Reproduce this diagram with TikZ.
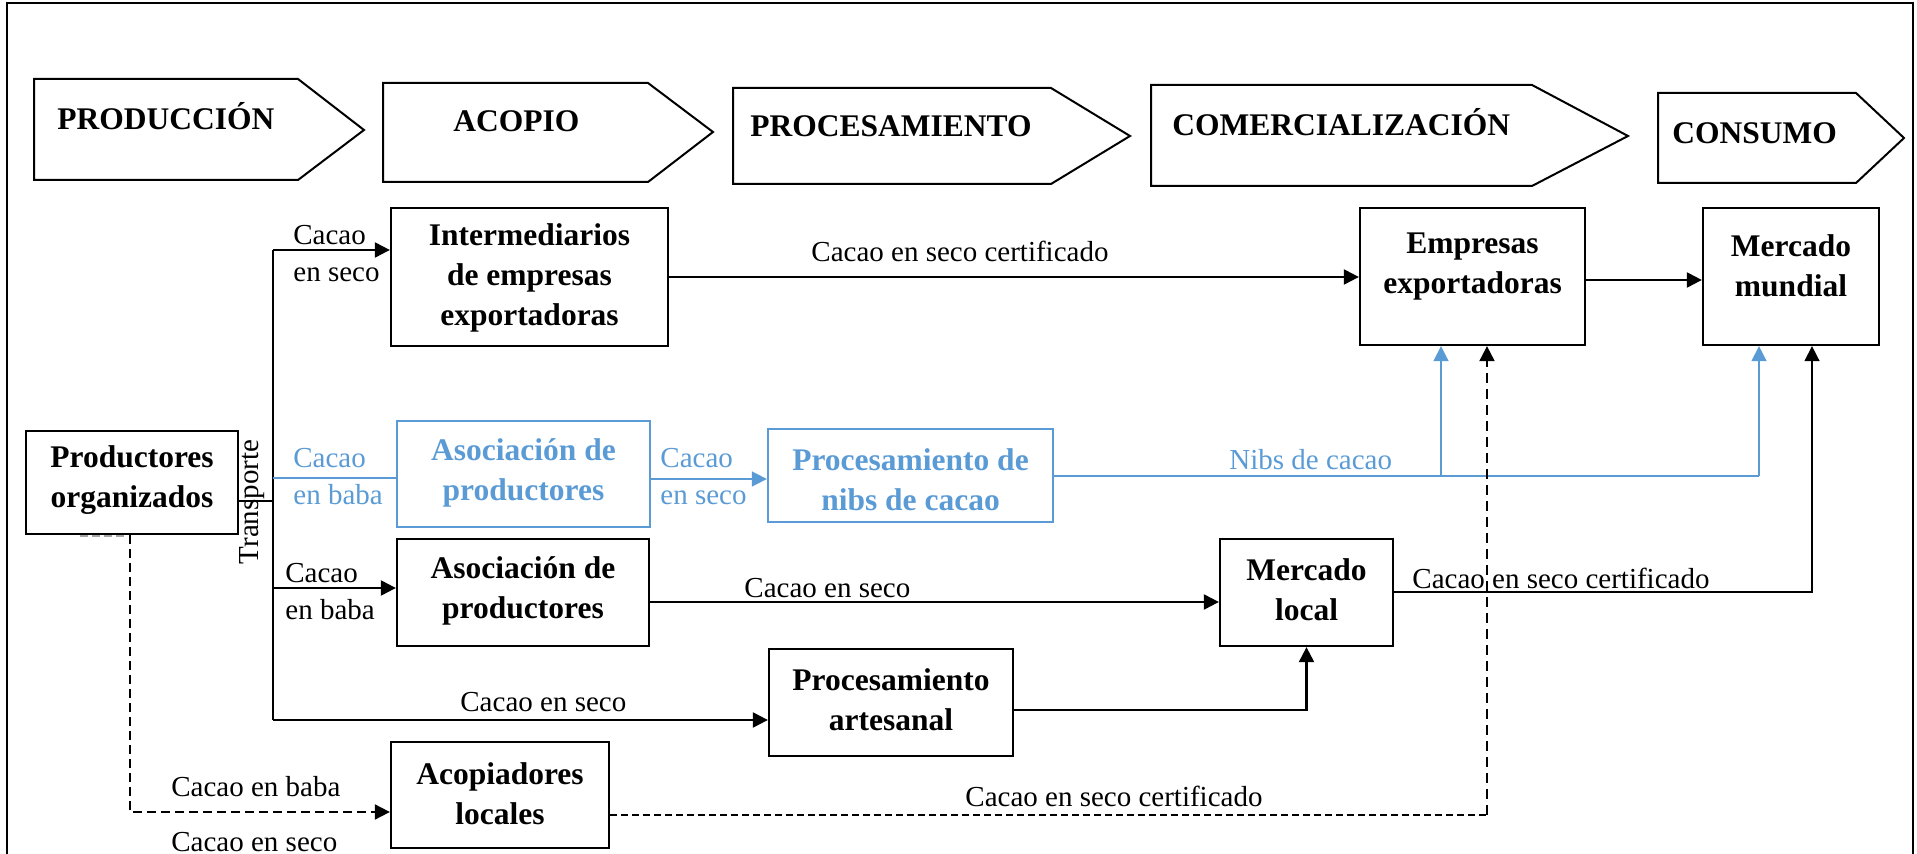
\documentclass[tikz,border=0pt]{standalone}
\usepackage{fontspec}
\setmainfont{Liberation Serif}
\usetikzlibrary{arrows.meta,calc}
\newdimen\px \px=0.5pt
\definecolor{cblue}{HTML}{5B9BD5}
\tikzset{
  box/.style={draw, line width=1.15pt, inner sep=0pt},
  bluebox/.style={draw=cblue, line width=1.15pt, inner sep=0pt},
  chev/.style={draw, line width=1pt},
  htext/.style={font=\fontsize{15.75}{20}\bfseries\selectfont, inner sep=0pt, anchor=base west},
  btext/.style={font=\fontsize{15.75}{20}\bfseries\selectfont, align=center, inner sep=0pt},
  lbl/.style={font=\fontsize{14.5}{18.5}\selectfont, align=left, inner sep=0pt, anchor=west},
  tip/.style={-{Triangle[length=7.5pt,width=7.5pt]}},
  conn/.style={line width=1pt},
  arr/.style={line width=1.1pt, tip},
  barr/.style={draw=cblue, line width=0.8pt, tip},
  bconn/.style={draw=cblue, line width=0.8pt},
  darr/.style={line width=1pt, dash pattern=on 4.5pt off 2.5pt, tip},
  dconn/.style={line width=0.75pt, dash pattern=on 3.5pt off 2pt},
}
\begin{document}
\begin{tikzpicture}[x=0.5pt,y=-0.5pt]
\useasboundingbox (0,0) rectangle (1917,854);
% outer frame
\draw[line width=1pt] (7,900) -- (7,3) -- (1913,3) -- (1913,900);

% header chevrons
\draw[chev] (34,79) -- (298,79) -- (364,130) -- (298,180) -- (34,180) -- cycle;
\node[htext] (hprod) at (57,130) {PRODUCCIÓN};
\draw[chev] (383,83) -- (648,83) -- (713,132) -- (648,182) -- (383,182) -- cycle;
\node[htext] (hacop) at (453,132) {ACOPIO};
\draw[chev] (733,88) -- (1051,88) -- (1130,136) -- (1051,184) -- (733,184) -- cycle;
\node[htext] (hproc) at (750,137) {PROCESAMIENTO};
\draw[chev] (1151,85) -- (1532,85) -- (1628,136) -- (1532,186) -- (1151,186) -- cycle;
\node[htext] (hcom) at (1172,136) {COMERCIALIZACIÓN};
\draw[chev] (1658,93) -- (1856,93) -- (1904,138) -- (1856,183) -- (1658,183) -- cycle;
\node[htext] (hcons) at (1672,144) {CONSUMO};

% boxes
\node[box, minimum width=277\px, minimum height=138\px] (inter) at (529.5,277) {};
\node[btext] (tinter) at (529.5,278) {Intermediarios\\de empresas\\exportadoras};
\node[box, minimum width=225\px, minimum height=137\px] (emp) at (1472.5,276.5) {};
\node[btext] (temp) at (1472.5,266.5) {Empresas\\exportadoras};
\node[box, minimum width=176\px, minimum height=137\px] (mm) at (1791,276.5) {};
\node[btext] (tmm) at (1791,266) {Mercado\\mundial};
\node[box, minimum width=212\px, minimum height=103\px] (prod) at (132,482.5) {};
\node[btext] (tprod) at (132,480) {Productores\\organizados};
\node[bluebox, minimum width=253\px, minimum height=106\px] (asocB) at (523.5,474) {};
\node[btext, text=cblue] (tasocB) at (523.5,472.5) {Asociación de\\productores};
\node[bluebox, minimum width=285\px, minimum height=93\px] (nibs) at (910.5,475.5) {};
\node[btext, text=cblue] (tnibs) at (910.5,480) {Procesamiento de\\nibs de cacao};
\node[box, minimum width=252\px, minimum height=107\px] (asoc) at (523,592.5) {};
\node[btext] (tasoc) at (523,590.5) {Asociación de\\productores};
\node[box, minimum width=173\px, minimum height=107\px] (ml) at (1306.5,592.5) {};
\node[btext] (tml) at (1306.5,589.5) {Mercado\\local};
\node[box, minimum width=244\px, minimum height=107\px] (artes) at (891,702.5) {};
\node[btext] (tartes) at (891,700) {Procesamiento\\artesanal};
\node[box, minimum width=218\px, minimum height=106\px] (acop) at (500,795) {};
\node[btext] (tacop) at (500,794) {Acopiadores\\locales};

% coordinates
\coordinate (t0) at (273,501);
\coordinate (tTop) at (273,250);
\coordinate (tBot) at (273,720);
\coordinate (tBlue) at (273,478);
\coordinate (tAsoc) at (273,588);
\coordinate (yIE) at (0,277);
\coordinate (yEM) at (0,280);
\coordinate (yBN) at (0,479);
\coordinate (nibEnd) at (1759,476);
\coordinate (nibEmp) at (1441,476);
\coordinate (yAM) at (0,602);
\coordinate (yArt) at (0,710);
\coordinate (mlTurn) at (1812,592);
\coordinate (dTurn) at (130,812);
\coordinate (acTurn) at (1487,815);

% trunk and links from productores
\draw[conn] (prod.east |- t0) -- (t0);
\draw[conn] (tTop) -- (tBot);
\draw[arr] (tTop) -- (inter.west |- tTop);
\draw[bconn] (tBlue) -- (asocB.west |- tBlue);
\draw[arr] (tAsoc) -- (asoc.west |- tAsoc);
\draw[arr] (tBot) -- (artes.west |- tBot);

% upper flows
\draw[arr] (inter.east |- yIE) -- (emp.west |- yIE);
\draw[arr] (emp.east |- yEM) -- (mm.west |- yEM);

% blue flows
\draw[barr] (asocB.east |- yBN) -- (nibs.west |- yBN);
\draw[bconn] (nibs.east |- nibEnd) -- (nibEnd);
\draw[barr] (nibEmp) -- (nibEmp |- emp.south);
\draw[barr] (nibEnd) -- (nibEnd |- mm.south);

% local market flows
\draw[arr] (asoc.east |- yAM) -- (ml.west |- yAM);
\draw[arr] (artes.east |- yArt) -| (ml.south);
\draw[line width=0.8pt, tip] (ml.east |- mlTurn) -- (mlTurn) -- (mlTurn |- mm.south);

% dashed flows
\draw[darr] (prod.south -| dTurn) -- (dTurn) -- (acop.west |- dTurn);
\draw[dconn] (acop.east |- acTurn) -- (acTurn);
\draw[line width=1pt, dash pattern=on 5pt off 3pt, tip] (acTurn) -- (acTurn |- emp.south);
\draw[gray!70, line width=1pt, dash pattern=on 4pt off 2pt] (80,536) -- (127,536);

% labels
\node[lbl] (l1) at (293,253.5) {Cacao\\en seco};
\node[lbl] (l2) at (811,251) {Cacao en seco certificado};
\node[lbl, text=cblue] (l3) at (293,476.5) {Cacao\\en baba};
\node[lbl, text=cblue] (l4) at (660,477) {Cacao\\en seco};
\node[lbl, text=cblue] (l5) at (1229,460) {Nibs de cacao};
\node[lbl] (l6) at (285,591.5) {Cacao\\en baba};
\node[lbl] (l7) at (744,588) {Cacao en seco};
\node[lbl] (l8) at (1412,578) {Cacao en seco certificado};
\node[lbl] (l9) at (460,702) {Cacao en seco};
\node[lbl] (l10) at (171,787) {Cacao en baba};
\node[lbl] (l11) at (171,842) {Cacao en seco};
\node[lbl] (l12) at (965,796) {Cacao en seco certificado};
\node[lbl, rotate=90, anchor=center] (ltr) at (252,502) {Transporte};
\end{tikzpicture}
\end{document}
